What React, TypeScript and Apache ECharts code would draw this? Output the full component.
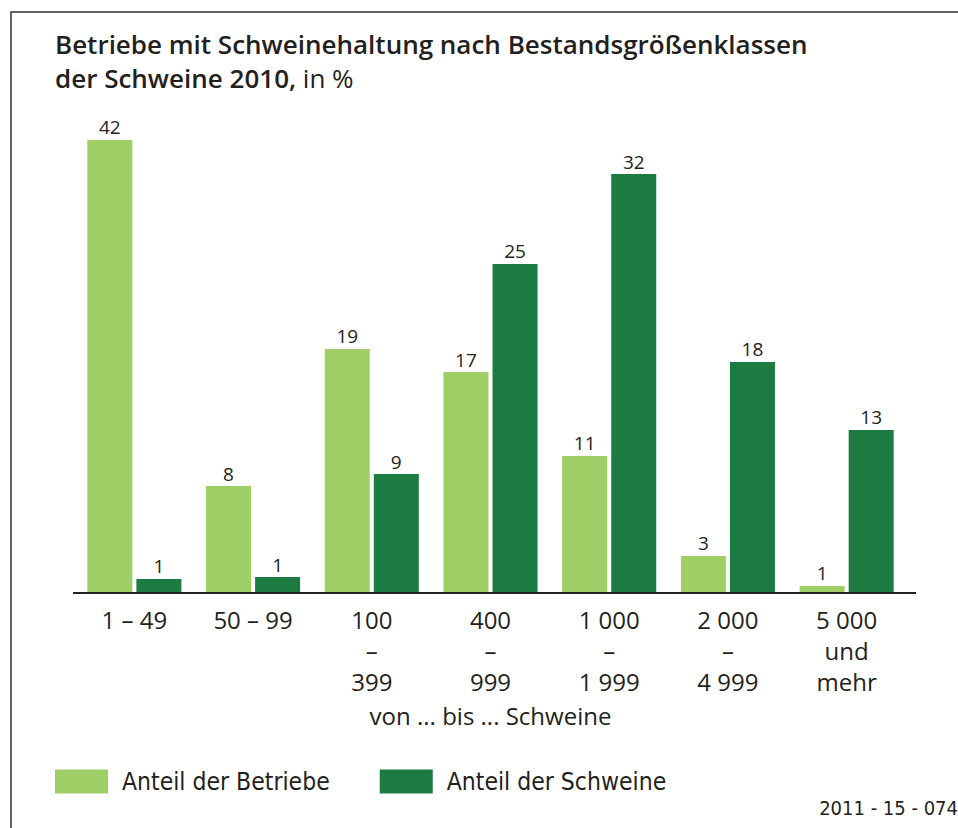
import React, { useEffect, useRef } from "react";
import * as echarts from "echarts";

const categories = [
  "1 – 49",
  "50 – 99",
  "100\n–\n399",
  "400\n–\n999",
  "1 000\n–\n1 999",
  "2 000\n–\n4 999",
  "5 000\nund\nmehr",
];
// bar heights as drawn (first bar is drawn shortened in the original)
const betriebeHeights = [34.85, 8.23, 18.77, 17.0, 10.54, 2.85, 0.54];
const schweineHeights = [1.08, 1.23, 9.15, 25.31, 32.23, 17.77, 12.54];
// printed values
const betriebeLabels = [42, 8, 19, 17, 11, 3, 1];
const schweineLabels = [1, 1, 9, 25, 32, 18, 13];

const seriesNames = ["Anteil der Betriebe", "Anteil der Schweine"];
const LIGHT = "#9fce67";
const DARK = "#1b7b41";
const TEXT = "#231f20";
const FONT = "'Open Sans', 'Noto Sans', sans-serif";
const NARROW = "'Liberation Sans Narrow', 'DejaVu Sans Condensed', 'Open Sans', sans-serif";

export default function App() {
  const ref = useRef<HTMLDivElement>(null);
  useEffect(() => {
    if (!ref.current) return;
    const chart = echarts.init(ref.current, undefined, { renderer: "svg" });
    chart.setOption({
      animation: false,
      backgroundColor: "#ffffff",
      title: {
        left: 50,
        top: 22,
        text: "{b|Betriebe mit Schweinehaltung nach Bestandsgrößenklassen}\n{b|der Schweine 2010,}{n| in %}",
        textStyle: {
          rich: {
            b: { fontFamily: FONT, fontWeight: 600, fontSize: 26, lineHeight: 34, color: TEXT },
            n: { fontFamily: FONT, fontWeight: 400, fontSize: 26, lineHeight: 34, color: TEXT },
          },
        },
      },
      legend: {
        left: 50,
        top: 764,
        icon: "rect",
        itemWidth: 53,
        itemHeight: 24,
        itemGap: 50,
        data: seriesNames,
        textStyle: {
          fontFamily: NARROW,
          fontSize: 24.5,
          color: TEXT,
          width: 230,
          padding: [0, 0, 0, 9],
        },
      },
      grid: { left: 75, right: 52, top: 73, bottom: 235 },
      xAxis: {
        type: "category",
        data: categories,
        axisLine: { show: false },
        axisTick: { show: false },
        axisLabel: {
          interval: 0,
          margin: 11,
          fontFamily: FONT,
          fontSize: 24,
          lineHeight: 31,
          color: TEXT,
          verticalAlign: "top",
        },
        name: "von ... bis ... Schweine",
        nameLocation: "middle",
        nameGap: 110,
        nameTextStyle: { fontFamily: FONT, fontSize: 24, color: TEXT },
      },
      yAxis: {
        type: "value",
        min: 0,
        max: 40,
        show: false,
        splitLine: { show: false },
      },
      series: [
        {
          name: seriesNames[0],
          type: "bar",
          data: betriebeHeights,
          barWidth: 45,
          barGap: "9%",
          itemStyle: { color: LIGHT },
          label: {
            show: true,
            position: "top",
            distance: 3,
            fontFamily: FONT,
            fontSize: 19,
            color: TEXT,
            formatter: (p: any) => String(betriebeLabels[p.dataIndex]),
          },
        },
        {
          name: seriesNames[1],
          type: "bar",
          data: schweineHeights,
          barWidth: 45,
          itemStyle: { color: DARK },
          label: {
            show: true,
            position: "top",
            distance: 3,
            fontFamily: FONT,
            fontSize: 19,
            color: TEXT,
            formatter: (p: any) => String(schweineLabels[p.dataIndex]),
          },
        },
      ],
      graphic: [
        {
          type: "rect",
          shape: { x: 11, y: 12, width: 1200, height: 1200 },
          style: { fill: "none", stroke: "#333333", lineWidth: 1.5 },
          silent: true,
          z: 0,
        },
        {
          type: "line",
          shape: { x1: 73, y1: 593, x2: 916, y2: 593 },
          style: { stroke: "#222222", lineWidth: 2 },
          z: 10,
        },
        {
          type: "text",
          x: 958,
          y: 808,
          style: {
            text: "2011 - 15 - 074",
            fontFamily: NARROW,
            fontSize: 20,
            fill: TEXT,
            align: "right",
            verticalAlign: "middle",
          },
        },
      ],
    });
    return () => chart.dispose();
  }, []);
  return (
    <div
      ref={ref}
      style={{ position: "fixed", left: 0, top: 0, width: 958, height: 828 }}
    />
  );
}
